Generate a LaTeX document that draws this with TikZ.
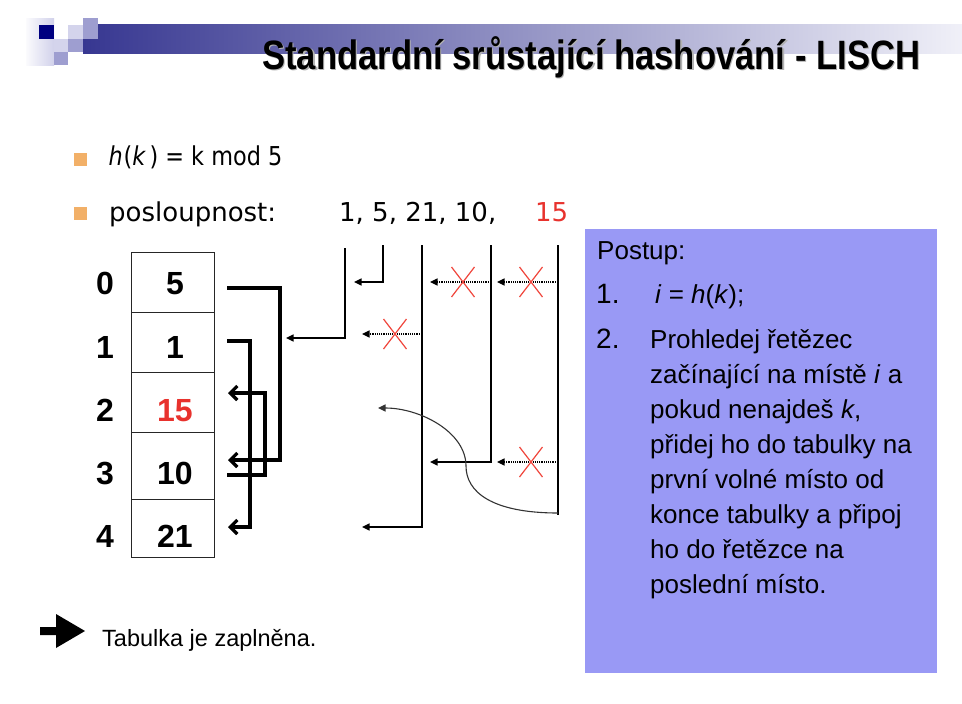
\documentclass[tikz,border=0pt]{standalone}
\usepackage{fontspec}
\setmainfont{Liberation Sans}
\newfontfamily\bulletfont{DejaVu Sans}
\usetikzlibrary{arrows.meta,calc}

\definecolor{navy}{RGB}{0,0,128}
\definecolor{barleft}{RGB}{55,55,145}
\definecolor{barmid}{RGB}{175,175,215}
\definecolor{barright}{RGB}{240,240,248}
\definecolor{palesq}{RGB}{212,212,236}
\definecolor{midsq}{RGB}{158,158,208}
\definecolor{bulletorange}{RGB}{242,176,104}
\definecolor{hitred}{RGB}{232,50,45}
\definecolor{crossred}{RGB}{240,70,60}
\definecolor{notebox}{RGB}{153,153,245}

\begin{document}
\begin{tikzpicture}[x=1pt,y=-1pt,
  thickarrow/.style={line width=3.2pt,line join=miter,-{Straight Barb[length=7pt,width=14pt]}},
  thinarrow/.style={line width=1.3pt,-{Triangle[length=7.5pt,width=7pt]}},
  probe/.style={line width=1.2pt,dash pattern=on 1.2pt off 1pt,-{Triangle[length=7.5pt,width=7pt]}},
  chainline/.style={line width=1.3pt},
  xmark/.style={draw=crossred,line width=1.2pt},
  cell/.style={draw=black!85,line width=1pt,minimum width=83pt,inner sep=0pt},
  tabnum/.style={font=\fontsize{32}{32}\selectfont\bfseries,anchor=base,inner sep=0pt},
  bullettext/.style={font=\bulletfont\fontsize{26}{26}\selectfont,anchor=base west,inner sep=0pt},
  boxtext/.style={font=\fontsize{26}{26}\selectfont,anchor=base west,inner sep=0pt},
  bulletsq/.style={fill=bulletorange},
]
\useasboundingbox (0,0) rectangle (962,704);
\fill[white] (0,0) rectangle (962,704);

% ---------- header band ----------
\shade[left color=barleft,middle color=barmid,right color=barright] (83,24) rectangle (962,53);
\shade[left color=white!90!palesq,right color=palesq!95!midsq] (26,18) rectangle (54,65);
\fill[navy]   (39,25) rectangle (54,39);
\fill[palesq] (54,39) rectangle (68,52);
\fill[midsq]  (54,52) rectangle (68,65);
\fill[palesq] (68,25) rectangle (83,39);
\fill[midsq]  (68,39) rectangle (83,52);
\fill[midsq]  (83,18) rectangle (98,39);

\node[anchor=base west,inner sep=0pt,text=black!30,font=\fontsize{41}{41}\selectfont\bfseries]
  at (263.2,70.2) {\resizebox{658pt}{\height}{Standardní srůstající hashování - LISCH}};
\node (title) [anchor=base west,inner sep=0pt,font=\fontsize{41}{41}\selectfont\bfseries]
  at (262,69) {\resizebox{658pt}{\height}{Standardní srůstající hashování - LISCH}};

% ---------- bullets ----------
\fill[bulletsq] (74,153) rectangle (87,166);
\fill[bulletsq] (74,207) rectangle (87,220);
\node (hash) [bullettext] at (108.5,165)
  {\scalebox{0.86}[1]{\textit{h}\kern1pt(\textit{k}\kern4pt) = k mod 5}};
\node (seqlabel) [bullettext] at (109,221) {posloupnost:};
\node (seq) [bullettext] at (339,221) {1, 5, 21, 10,};
\node (seqlast) [bullettext,text=hitred] at (535,221) {15};

% ---------- hash table ----------
\node (c0) [cell,minimum height=60pt] at (173,282) {};
\node (c1) [cell,minimum height=60pt] at (173,342) {};
\node (c2) [cell,minimum height=60pt] at (173,402) {};
\node (c3) [cell,minimum height=67pt] at (173,465.5) {};
\node (c4) [cell,minimum height=58pt] at (173,528) {};

\node (i0) [tabnum] at (105,294) {0};
\node (i1) [tabnum] at (105,358) {1};
\node (i2) [tabnum] at (105,421) {2};
\node (i3) [tabnum] at (105,484) {3};
\node (i4) [tabnum] at (105,547) {4};

\node (v0) [tabnum] at (175,294) {5};
\node (v1) [tabnum] at (175,358) {1};
\node (v2) [tabnum,text=hitred] at (175,421) {15};
\node (v3) [tabnum] at (175,484) {10};
\node (v4) [tabnum] at (175,547) {21};

% ---------- chain links of the table ----------
\coordinate (out0) at (227,288);
\coordinate (out1) at (227,341);
\coordinate (out3) at (227,475);
\coordinate (in2)  at (228,393);
\coordinate (in3)  at (228,460);
\coordinate (in4)  at (228,527);
\coordinate (bend0) at (280,288);
\coordinate (bend1) at (250,341);
\coordinate (bend3) at (265,475);

\draw[thickarrow] (out0) -- (bend0) |- (in3);
\draw[thickarrow] (out1) -- (bend1) |- (in4);
\draw[thickarrow] (out3) -- (bend3) |- (in2);

% ---------- insertion steps ----------
\coordinate (k1top)  at (345,248);
\coordinate (k1end)  at (286,338);
\coordinate (k5top)  at (383,245);
\coordinate (k5end)  at (354,282);
\coordinate (k21top) at (422,245);
\coordinate (k21end) at (362,527);
\coordinate (k10top) at (491,245);
\coordinate (k10end) at (430,462);
\coordinate (k15top) at (558,245);
\coordinate (k15bot) at (558,515);
\coordinate (k15end) at (378,408);

\draw[thinarrow] (k1top) |- (k1end);
\draw[thinarrow] (k5top) |- (k5end);
\draw[thinarrow] (k21top) |- (k21end);
\draw[thinarrow] (k10top) |- (k10end);
\draw[chainline] (k15top) -- (k15bot);

% failed probes
\coordinate (p21s) at (422,334); \coordinate (p21e) at (362,334);
\coordinate (p10s) at (491,282); \coordinate (p10e) at (430,282);
\coordinate (p15as) at (558,282); \coordinate (p15ae) at (497,282);
\coordinate (p15bs) at (558,462); \coordinate (p15be) at (497,462);
\draw[probe] (p21s) -- (p21e);
\draw[probe] (p10s) -- (p10e);
\draw[probe] (p15as) -- (p15ae);
\draw[probe] (p15bs) -- (p15be);

\foreach \cx/\cy in {395/334, 463/282, 531/282, 531/462}{
  \draw[xmark] (\cx-11.5,\cy-15) -- (\cx+11.5,\cy+15);
  \draw[xmark] (\cx-11.5,\cy+15) -- (\cx+11.5,\cy-15);
}

% final key 15 goes into the free slot
\draw[line width=1.1pt,black!80,-{Triangle[length=7.5pt,width=7pt]}]
  (558,513) .. controls (492,513) and (466,492) .. (466,466)
  .. controls (466,432) and (420,408) .. (k15end);

% ---------- procedure box ----------
\fill[notebox] (585,229) rectangle (937,673);
\node (postup) [boxtext] at (597,259) {Postup:};
\node (n1) [boxtext,font=\fontsize{28}{28}\selectfont] at (596,303) {1.};
\node (s1) [boxtext] at (655,303) {\textit{i} = \textit{h}(\textit{k});};
\node (n2) [boxtext,font=\fontsize{28}{28}\selectfont] at (596,348) {2.};
\node (s2a) [boxtext] at (650,348) {Prohledej řetězec};
\node (s2b) [boxtext] at (650,383) {začínající na místě \textit{i} a};
\node (s2c) [boxtext] at (650,418) {pokud nenajdeš \textit{k},};
\node (s2d) [boxtext] at (650,453) {přidej ho do tabulky na};
\node (s2e) [boxtext] at (650,488) {první volné místo od};
\node (s2f) [boxtext] at (650,523) {konce tabulky a připoj};
\node (s2g) [boxtext] at (650,558) {ho do řetězce na};
\node (s2h) [boxtext] at (650,593) {poslední místo.};

% ---------- conclusion ----------
\fill[black] (40,627) -- (56,627) -- (56,614) -- (85,631) -- (56,648) -- (56,635) -- (40,635) -- cycle;
\node (full) [anchor=base west,inner sep=0pt,font=\fontsize{23.5}{23.5}\selectfont] at (102,646) {Tabulka je zaplněna.};
\end{tikzpicture}
\end{document}
